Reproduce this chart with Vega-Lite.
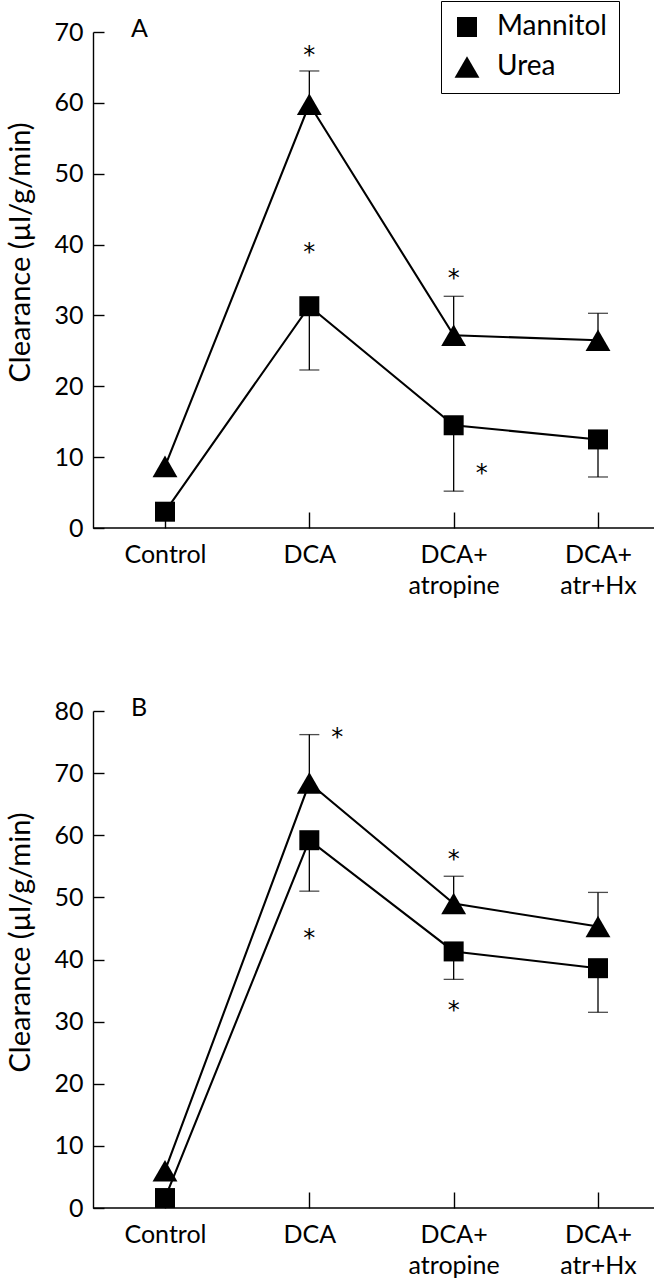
{
  "$schema": "https://vega.github.io/schema/vega-lite/v6.json",
  "padding": {"left": 6, "top": 0, "right": 0, "bottom": 0},
  "bounds": "flush",
  "spacing": 183,
  "background": "white",
  "config": {
    "font": "Lato",
    "view": {"stroke": null},
    "scale": {"pointPadding": 0},
    "axis": {"grid": false, "domainColor": "black", "domainWidth": 1.4, "tickColor": "black", "tickWidth": 1.4, "labelColor": "black", "labelFont": "Lato", "labelFontSize": 25, "titleColor": "black", "titleFont": "Lato", "titleFontSize": 29, "titleFontWeight": "normal"},
    "axisY": {"tickSize": -11, "labelPadding": 21},
    "axisX": {"tickSize": -16, "labelPadding": 30, "domain": false, "labelAngle": 0, "labelLineHeight": 31, "labelBaseline": "top"}
  },
  "datasets": {
    "pts": [
      {"panel": "A", "series": "Mannitol", "cond": "Control", "value": 2.3, "err": null},
      {"panel": "A", "series": "Mannitol", "cond": "DCA", "value": 31.3, "err": 22.3},
      {"panel": "A", "series": "Mannitol", "cond": "DCA+ atropine", "value": 14.5, "err": 5.2},
      {"panel": "A", "series": "Mannitol", "cond": "DCA+ atr+Hx", "value": 12.5, "err": 7.2},
      {"panel": "A", "series": "Urea", "cond": "Control", "value": 8.7, "err": null},
      {"panel": "A", "series": "Urea", "cond": "DCA", "value": 59.8, "err": 64.5},
      {"panel": "A", "series": "Urea", "cond": "DCA+ atropine", "value": 27.2, "err": 32.7},
      {"panel": "A", "series": "Urea", "cond": "DCA+ atr+Hx", "value": 26.5, "err": 30.3},
      {"panel": "B", "series": "Mannitol", "cond": "Control", "value": 1.6, "err": null},
      {"panel": "B", "series": "Mannitol", "cond": "DCA", "value": 59.2, "err": 51.0},
      {"panel": "B", "series": "Mannitol", "cond": "DCA+ atropine", "value": 41.3, "err": 36.8},
      {"panel": "B", "series": "Mannitol", "cond": "DCA+ atr+Hx", "value": 38.6, "err": 31.5},
      {"panel": "B", "series": "Urea", "cond": "Control", "value": 6.0, "err": null},
      {"panel": "B", "series": "Urea", "cond": "DCA", "value": 68.4, "err": 76.2},
      {"panel": "B", "series": "Urea", "cond": "DCA+ atropine", "value": 49.0, "err": 53.4},
      {"panel": "B", "series": "Urea", "cond": "DCA+ atr+Hx", "value": 45.3, "err": 50.8}
    ],
    "stars": [
      {"panel": "A", "cond": "DCA", "value": 67.5},
      {"panel": "A", "cond": "DCA", "value": 39.7},
      {"panel": "A", "cond": "DCA+ atropine", "value": 36.0},
      {"panel": "B", "cond": "DCA", "value": 44.2},
      {"panel": "B", "cond": "DCA+ atropine", "value": 57.0},
      {"panel": "B", "cond": "DCA+ atropine", "value": 32.6}
    ],
    "starsRight": [
      {"panel": "A", "cond": "DCA+ atropine", "value": 8.5},
      {"panel": "B", "cond": "DCA", "value": 76.7}
    ],
    "letters": [
      {"panel": "A", "letter": "A", "cond": "Control", "value": 70},
      {"panel": "B", "letter": "B", "cond": "Control", "value": 80}
    ]
  },
  "resolve": {"scale": {"y": "independent", "shape": "independent", "size": "independent"}, "legend": {"shape": "independent", "size": "independent"}},
  "vconcat": [
    {
      "width": 561,
      "height": 496,
      "layer": [
        {
          "data": {"values": [{}]},
          "mark": {"type": "rule", "color": "black", "strokeWidth": 1.4},
          "encoding": {"y": {"datum": 0, "type": "quantitative", "scale": {"domain": [0, 70], "nice": false}, "axis": {"values": [0, 10, 20, 30, 40, 50, 60, 70], "title": "Clearance (µl/g/min)", "titleX": -64, "titleY": 220, "titleAngle": -90, "titleAlign": "center", "titleBaseline": "alphabetic"}}}
        },
        {
          "data": {"name": "pts"},
          "transform": [{"filter": "datum.panel === 'A'"}],
          "mark": {"type": "line", "color": "black", "strokeWidth": 2.1},
          "encoding": {
            "x": {"field": "cond", "type": "ordinal", "scale": {"type": "point", "domain": ["Control", "DCA", "DCA+ atropine", "DCA+ atr+Hx"], "range": [72, 505], "padding": 0}, "axis": {"title": null, "labelExpr": "split(datum.label, ' ')"}},
            "y": {"field": "value", "type": "quantitative", "scale": {"domain": [0, 70], "nice": false}, "axis": {"values": [0, 10, 20, 30, 40, 50, 60, 70], "title": "Clearance (µl/g/min)", "titleX": -64, "titleY": 220, "titleAngle": -90, "titleAlign": "center", "titleBaseline": "alphabetic"}},
            "detail": {"field": "series", "type": "nominal"},
            "order": {"value": null}
          }
        },
        {
          "data": {"name": "pts"},
          "transform": [{"filter": "datum.panel === 'A' && isValid(datum.err)"}],
          "mark": {"type": "rule", "color": "black", "strokeWidth": 1.3},
          "encoding": {
            "x": {"field": "cond", "type": "ordinal"},
            "y": {"field": "value", "type": "quantitative"},
            "y2": {"field": "err"}
          }
        },
        {
          "data": {"name": "pts"},
          "transform": [{"filter": "datum.panel === 'A' && isValid(datum.err)"}],
          "mark": {"type": "tick", "color": "black", "size": 20, "thickness": 1.3, "orient": "horizontal"},
          "encoding": {
            "x": {"field": "cond", "type": "ordinal"},
            "y": {"field": "err", "type": "quantitative"}
          }
        },
        {
          "data": {"name": "pts"},
          "transform": [{"filter": "datum.panel === 'A'"}],
          "mark": {"type": "point", "filled": true, "color": "black", "opacity": 1, "strokeWidth": 0},
          "encoding": {
            "x": {"field": "cond", "type": "ordinal"},
            "y": {"field": "value", "type": "quantitative"},
            "shape": {"field": "series", "type": "nominal", "scale": {"domain": ["Mannitol", "Urea"], "range": ["square", "triangle-up"]}, "legend": {"orient": "none", "legendX": 348, "legendY": -31, "title": null, "padding": 12, "strokeColor": "black", "fillColor": "white", "labelFont": "Lato", "labelFontSize": 28, "labelColor": "black", "labelOffset": 16, "rowPadding": 12, "symbolFillColor": "black", "symbolStrokeWidth": 0, "symbolOpacity": 1}},
            "size": {"field": "series", "type": "nominal", "scale": {"domain": ["Mannitol", "Urea"], "range": [400, 620]}, "legend": {"orient": "none", "legendX": 348, "legendY": -31, "title": null, "padding": 12, "strokeColor": "black", "fillColor": "white", "labelFont": "Lato", "labelFontSize": 28, "labelColor": "black", "labelOffset": 16, "rowPadding": 12, "symbolFillColor": "black", "symbolStrokeWidth": 0, "symbolOpacity": 1}}
          }
        },
        {
          "data": {"name": "stars"},
          "transform": [{"filter": "datum.panel === 'A'"}],
          "mark": {"type": "text", "text": "*", "font": "DejaVu Sans", "fontSize": 24, "color": "black", "baseline": "middle", "dy": 6},
          "encoding": {"x": {"field": "cond", "type": "ordinal"}, "y": {"field": "value", "type": "quantitative"}}
        },
        {
          "data": {"name": "starsRight"},
          "transform": [{"filter": "datum.panel === 'A'"}],
          "mark": {"type": "text", "text": "*", "font": "DejaVu Sans", "fontSize": 24, "color": "black", "baseline": "middle", "dy": 6, "dx": 28},
          "encoding": {"x": {"field": "cond", "type": "ordinal"}, "y": {"field": "value", "type": "quantitative"}}
        },
        {
          "data": {"name": "letters"},
          "transform": [{"filter": "datum.panel === 'A'"}],
          "mark": {"type": "text", "font": "Lato", "fontSize": 25, "color": "black", "align": "left", "baseline": "alphabetic", "dx": -34, "dy": 5},
          "encoding": {"text": {"field": "letter"}, "x": {"field": "cond", "type": "ordinal"}, "y": {"field": "value", "type": "quantitative"}}
        }
      ]
    },
    {
      "width": 561,
      "height": 497,
      "layer": [
        {
          "data": {"values": [{}]},
          "mark": {"type": "rule", "color": "black", "strokeWidth": 1.4},
          "encoding": {"y": {"datum": 0, "type": "quantitative", "scale": {"domain": [0, 80], "nice": false}, "axis": {"values": [0, 10, 20, 30, 40, 50, 60, 70, 80], "title": "Clearance (µl/g/min)", "titleX": -64, "titleY": 231, "titleAngle": -90, "titleAlign": "center", "titleBaseline": "alphabetic"}}}
        },
        {
          "data": {"name": "pts"},
          "transform": [{"filter": "datum.panel === 'B'"}],
          "mark": {"type": "line", "color": "black", "strokeWidth": 2.1},
          "encoding": {
            "x": {"field": "cond", "type": "ordinal", "scale": {"type": "point", "domain": ["Control", "DCA", "DCA+ atropine", "DCA+ atr+Hx"], "range": [72, 505], "padding": 0}, "axis": {"title": null, "labelExpr": "split(datum.label, ' ')"}},
            "y": {"field": "value", "type": "quantitative", "scale": {"domain": [0, 80], "nice": false}, "axis": {"values": [0, 10, 20, 30, 40, 50, 60, 70, 80], "title": "Clearance (µl/g/min)", "titleX": -64, "titleY": 231, "titleAngle": -90, "titleAlign": "center", "titleBaseline": "alphabetic"}},
            "detail": {"field": "series", "type": "nominal"},
            "order": {"value": null}
          }
        },
        {
          "data": {"name": "pts"},
          "transform": [{"filter": "datum.panel === 'B' && isValid(datum.err)"}],
          "mark": {"type": "rule", "color": "black", "strokeWidth": 1.3},
          "encoding": {
            "x": {"field": "cond", "type": "ordinal"},
            "y": {"field": "value", "type": "quantitative"},
            "y2": {"field": "err"}
          }
        },
        {
          "data": {"name": "pts"},
          "transform": [{"filter": "datum.panel === 'B' && isValid(datum.err)"}],
          "mark": {"type": "tick", "color": "black", "size": 20, "thickness": 1.3, "orient": "horizontal"},
          "encoding": {
            "x": {"field": "cond", "type": "ordinal"},
            "y": {"field": "err", "type": "quantitative"}
          }
        },
        {
          "data": {"name": "pts"},
          "transform": [{"filter": "datum.panel === 'B'"}],
          "mark": {"type": "point", "filled": true, "color": "black", "opacity": 1, "strokeWidth": 0},
          "encoding": {
            "x": {"field": "cond", "type": "ordinal"},
            "y": {"field": "value", "type": "quantitative"},
            "shape": {"field": "series", "type": "nominal", "scale": {"domain": ["Mannitol", "Urea"], "range": ["square", "triangle-up"]}, "legend": null},
            "size": {"field": "series", "type": "nominal", "scale": {"domain": ["Mannitol", "Urea"], "range": [400, 620]}, "legend": null}
          }
        },
        {
          "data": {"name": "stars"},
          "transform": [{"filter": "datum.panel === 'B'"}],
          "mark": {"type": "text", "text": "*", "font": "DejaVu Sans", "fontSize": 24, "color": "black", "baseline": "middle", "dy": 6},
          "encoding": {"x": {"field": "cond", "type": "ordinal"}, "y": {"field": "value", "type": "quantitative"}}
        },
        {
          "data": {"name": "starsRight"},
          "transform": [{"filter": "datum.panel === 'B'"}],
          "mark": {"type": "text", "text": "*", "font": "DejaVu Sans", "fontSize": 24, "color": "black", "baseline": "middle", "dy": 6, "dx": 28},
          "encoding": {"x": {"field": "cond", "type": "ordinal"}, "y": {"field": "value", "type": "quantitative"}}
        },
        {
          "data": {"name": "letters"},
          "transform": [{"filter": "datum.panel === 'B'"}],
          "mark": {"type": "text", "font": "Lato", "fontSize": 25, "color": "black", "align": "left", "baseline": "alphabetic", "dx": -34, "dy": 5},
          "encoding": {"text": {"field": "letter"}, "x": {"field": "cond", "type": "ordinal"}, "y": {"field": "value", "type": "quantitative"}}
        }
      ]
    }
  ]
}
